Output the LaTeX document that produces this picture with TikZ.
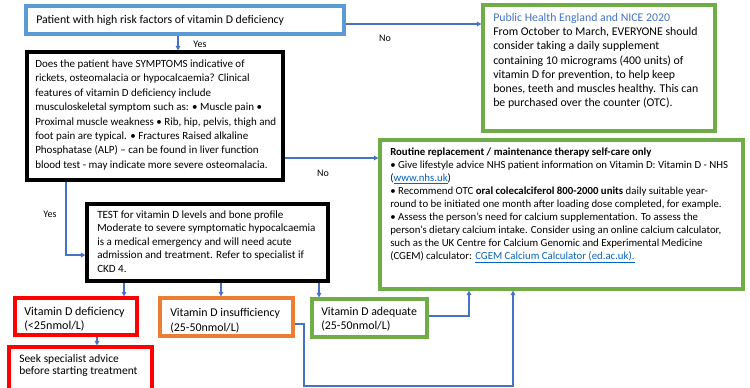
\documentclass[tikz,border=0pt]{standalone}
\usepackage{fontspec}
\setmainfont{Carlito}
\usetikzlibrary{fit,arrows.meta}
\definecolor{bxblue}{HTML}{5B9BD5}
\definecolor{lnblue}{HTML}{4472C4}
\definecolor{bxgreen}{HTML}{70AD47}
\definecolor{bxorange}{HTML}{ED7D31}
\definecolor{bxred}{HTML}{FF0000}
\definecolor{linkblue}{HTML}{0563C1}
\newcommand{\lnk}[1]{\textcolor{linkblue}{\underline{#1}}}
\begin{document}
\begin{tikzpicture}[x=0.75pt,y=-0.75pt,
  bx/.style={draw,line width=2.3pt,inner sep=0pt,rectangle},
  txt/.style={anchor=north west,inner sep=0pt,align=left},
  conn/.style={draw=lnblue,line width=0.9pt,-{Triangle[length=3.4pt,width=3.4pt]}},
  lbl/.style={inner sep=0pt,font=\fontsize{7.5}{9}\selectfont}]
\useasboundingbox (0,0) rectangle (750,387);
% boxes
\node[bx,draw=bxblue,fit={(26,6)(344,34)}] (risk) {};
\node[txt,anchor=west,font=\fontsize{8.85}{10}\selectfont] (risktxt) at (36,20) {Patient with high risk factors of vitamin D deficiency};

\node[bx,draw=black,fit={(27,52)(283,180)}] (symp) {};
\node[txt,font=\fontsize{8.25}{10.8}\selectfont] (symptxt) at (35,59.5) {Does the patient have SYMPTOMS indicative of\\
rickets, osteomalacia or hypocalcaemia? Clinical\\
features of vitamin D deficiency include\\
musculoskeletal symptom such as: • Muscle pain •\\
Proximal muscle weakness • Rib, hip, pelvis, thigh and\\
foot pain are typical. • Fractures Raised alkaline\\
Phosphatase (ALP) – can be found in liver function\\
blood test - may indicate more severe osteomalacia.};

\node[bx,draw=bxgreen,fit={(483,5)(715,131)}] (phe) {};
\node[txt,font=\fontsize{8.85}{10.65}\selectfont] (phetxt) at (493,13) {\textcolor{lnblue}{Public Health England and NICE 2020}\\
From October to March, EVERYONE should\\
consider taking a daily supplement\\
containing 10 micrograms (400 units) of\\
vitamin D for prevention, to help keep\\
bones, teeth and muscles healthy. This can\\
be purchased over the counter (OTC).};

\node[bx,draw=bxgreen,fit={(380,140)(743,289)}] (rout) {};
\node[txt,font=\fontsize{8.1}{9.75}\selectfont] (routtxt) at (390,147.5) {\textbf{Routine replacement / maintenance therapy self-care only}\\
• Give lifestyle advice NHS patient information on Vitamin D: Vitamin D - NHS\\
(\lnk{www.nhs.uk})\\
• Recommend OTC \textbf{oral colecalciferol 800-2000 units} daily suitable year-\\
round to be initiated one month after loading dose completed, for example.\\
• Assess the person's need for calcium supplementation. To assess the\\
person's dietary calcium intake. Consider using an online calcium calculator,\\
such as the UK Centre for Calcium Genomic and Experimental Medicine\\
(CGEM) calculator: \lnk{CGEM Calcium Calculator (ed.ac.uk).}};

\node[bx,draw=black,fit={(87,204)(328,281)}] (test) {};
\node[txt,font=\fontsize{8.3}{10.1}\selectfont] (testtxt) at (97,210.5) {TEST for vitamin D levels and bone profile\\
Moderate to severe symptomatic hypocalcaemia\\
is a medical emergency and will need acute\\
admission and treatment. Refer to specialist if\\
CKD 4.};

\node[bx,draw=bxred,fit={(15,298)(137,335)}] (def) {};
\node[txt,font=\fontsize{9.05}{10.5}\selectfont] (deftxt) at (24,307) {Vitamin D deficiency\\(<25nmol/L)};

\node[bx,draw=bxorange,fit={(160,298)(293,336)}] (insuf) {};
\node[txt,font=\fontsize{8.9}{10.8}\selectfont] (insuftxt) at (170,308.5) {Vitamin D insufficiency\\(25-50nmol/L)};

\node[bx,draw=bxgreen,fit={(312,299)(427,337)}] (adeq) {};
\node[txt,font=\fontsize{8.9}{10.5}\selectfont] (adeqtxt) at (321,307) {Vitamin D adequate\\(25-50nmol/L)};

\node[bx,draw=bxred,fit={(9,347)(152,392)}] (seek) {};
\node[txt,font=\fontsize{8.6}{9}\selectfont] (seektxt) at (19,354) {Seek specialist advice\\before starting treatment};

% helper coordinates
\coordinate (xA) at (178,0);
\coordinate (yA) at (0,24);
\coordinate (yB) at (0,158);
\coordinate (xB) at (66,0);
\coordinate (yC) at (0,255);
\coordinate (x1) at (124,0);
\coordinate (x2) at (221,0);
\coordinate (x3) at (319,0);
\coordinate (x4) at (97,0);
\coordinate (yD) at (0,316);
\coordinate (xC) at (469,0);
\coordinate (yE) at (0,324);
\coordinate (xD) at (304,0);
\coordinate (yF) at (0,386);
\coordinate (xE) at (513,0);

% connectors
\draw[conn] (risk.south -| xA) -- (symp.north -| xA);
\draw[conn] (risk.east |- yA) -- (phe.west |- yA);
\draw[conn] (symp.east |- yB) -- (rout.west |- yB);
\draw[conn] (symp.south -| xB) |- (test.west |- yC);
\draw[conn] (test.south -| x1) -- (def.north -| x1);
\draw[conn] (test.south -| x2) -- (insuf.north -| x2);
\draw[conn] (test.south -| x3) -- (adeq.north -| x3);
\draw[conn] (def.south -| x4) -- (seek.north -| x4);
\draw[conn] (adeq.east |- yD) -| (rout.south -| xC);
\draw[conn] (insuf.east |- yE) -| (xD |- yF) -| (rout.south -| xE);

% labels
\node[lbl] (yes1) at (200,44) {Yes};
\node[lbl] (no1) at (385,38) {No};
\node[lbl] (no2) at (323,173) {No};
\node[lbl] (yes2) at (50,214) {Yes};
\end{tikzpicture}
\end{document}
